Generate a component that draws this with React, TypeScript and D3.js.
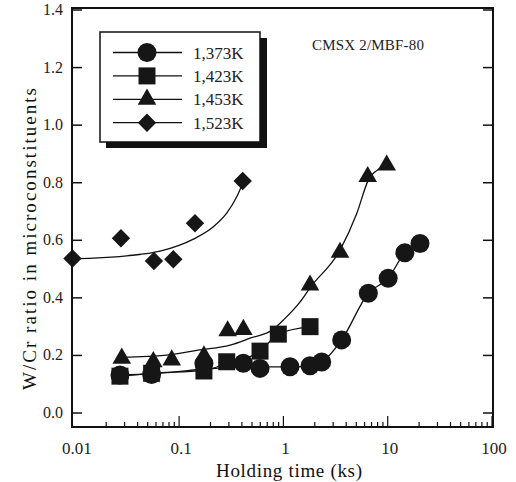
import React from "react";
import * as d3 from "d3";

// tick values / labels
const xMajor = [0.01, 0.1, 1, 10, 100];
const xLabels = ["0.01", "0.1", "1", "10", "100"];
const yTicks = [0, 0.2, 0.4, 0.6, 0.8, 1.0, 1.2, 1.4];
const yLabels = ["0.0", "0.2", "0.4", "0.6", "0.8", "1.0", "1.2", "1.4"];

// series (holding time in ks, W/Cr ratio)
const seriesNames = ["1,373K", "1,423K", "1,453K", "1,523K"];

const t1373 = [0.0271, 0.0545, 0.173, 0.413, 0.597, 1.157, 1.8, 2.33, 3.62, 6.52, 10.1, 14.6, 20.4];
const r1373 = [0.132, 0.134, 0.172, 0.173, 0.155, 0.161, 0.164, 0.177, 0.254, 0.416, 0.468, 0.557, 0.589];

const t1423 = [0.0271, 0.0545, 0.173, 0.286, 0.597, 0.894, 1.8];
const r1423 = [0.128, 0.138, 0.146, 0.178, 0.215, 0.274, 0.3];

const t1453 = [0.0282, 0.0566, 0.085, 0.173, 0.292, 0.413, 1.8, 3.49, 6.43, 9.78];
const r1453 = [0.19, 0.178, 0.184, 0.198, 0.285, 0.29, 0.444, 0.558, 0.821, 0.861];

const t1523 = [0.0095, 0.0277, 0.0574, 0.088, 0.142, 0.407];
const r1523 = [0.537, 0.607, 0.528, 0.534, 0.659, 0.806];

// fitted curves
const c1373t = [0.0271, 0.0545, 0.17, 0.4, 1.0, 1.8, 2.4, 3.62, 6.52, 10.1, 14.6, 20.4];
const c1373v = [0.132, 0.136, 0.152, 0.16, 0.16, 0.162, 0.18, 0.254, 0.416, 0.468, 0.557, 0.589];

const c1423t = [0.0271, 0.0545, 0.173, 0.286, 0.597, 0.894, 1.8];
const c1423v = [0.128, 0.138, 0.148, 0.172, 0.215, 0.274, 0.3];

const c1453t = [0.0282, 0.076, 0.158, 0.308, 0.479, 0.795, 1.0, 1.44, 1.8, 3.49, 5.05, 6.52, 8.44, 9.4];
const c1453v = [0.193, 0.201, 0.219, 0.236, 0.26, 0.29, 0.323, 0.385, 0.435, 0.566, 0.693, 0.809, 0.85, 0.86];

const c1523t = [0.0095, 0.015, 0.0315, 0.0656, 0.137, 0.213, 0.286, 0.357, 0.407];
const c1523v = [0.536, 0.538, 0.546, 0.562, 0.604, 0.647, 0.694, 0.751, 0.797];

const font = "'Liberation Serif', 'DejaVu Serif', serif";
const ink = "#111";

const App = () => {
  const left = 72, right = 493, top = 8, bottom = 427;
  const x = d3.scaleLog().domain([0.0094, 100]).range([left, 492]);
  const y = d3.scaleLinear().domain([-0.0486, 1.407]).range([bottom, top]);

  const line = d3.line<[number, number]>()
    .x((d) => x(d[0]))
    .y((d) => y(d[1]))
    .curve(d3.curveMonotoneX);

  const zip = (a: number[], b: number[]) => a.map((v, i) => [v, b[i]] as [number, number]);

  const circle = d3.symbol().type(d3.symbolCircle).size(Math.PI * 9.5 * 9.5)();
  const square = d3.symbol().type(d3.symbolSquare).size(17 * 17)();
  const triangle = d3.symbol().type(d3.symbolTriangle).size(150)();
  const diamond = d3.symbol().type(d3.symbolSquare).size(13 * 13)();

  const shapes = [
    { path: circle, rot: 0 },
    { path: square, rot: 0 },
    { path: triangle, rot: 0 },
    { path: diamond, rot: 45 },
  ];

  const series = [
    { pts: zip(t1373, r1373), curve: zip(c1373t, c1373v) },
    { pts: zip(t1423, r1423), curve: zip(c1423t, c1423v) },
    { pts: zip(t1453, r1453), curve: zip(c1453t, c1453v) },
    { pts: zip(t1523, r1523), curve: zip(c1523t, c1523v) },
  ];

  // minor + major ticks on bottom axis
  const xTicks = x.ticks().filter((t) => t > 0.015);
  const isMajor = (t: number) => Math.abs(Math.log10(t) - Math.round(Math.log10(t))) < 1e-6;

  return (
    <svg width={516} height={482} style={{ position: "absolute", left: 0, top: 0, background: "#fff" }}>
      {/* curves */}
      {series.map((s, i) => (
        <path key={"c" + i} d={line(s.curve) || ""} fill="none" stroke={ink} strokeWidth={1.3} />
      ))}

      {/* markers */}
      {series.map((s, i) =>
        s.pts.map((p, j) => (
          <path
            key={i + "-" + j}
            d={shapes[i].path || ""}
            transform={`translate(${x(p[0])},${y(p[1])}) rotate(${shapes[i].rot})`}
            fill="#161616"
          />
        ))
      )}

      {/* frame */}
      <rect x={left} y={top} width={right - left} height={bottom - top} fill="none" stroke={ink} strokeWidth={2} />

      {/* y ticks */}
      {yTicks.map((t, i) => (
        <g key={"y" + i}>
          <line x1={left} x2={left + 10} y1={y(t)} y2={y(t)} stroke={ink} strokeWidth={1.5} />
          <line x1={right - 10} x2={right} y1={y(t)} y2={y(t)} stroke={ink} strokeWidth={1.5} />
          <text x={63} y={y(t) + 5} textAnchor="end" fontFamily={font} fontSize={16} fill="#222">
            {yLabels[i]}
          </text>
        </g>
      ))}

      {/* x ticks */}
      {xTicks.map((t, i) => (
        <line key={"xt" + i} x1={x(t)} x2={x(t)} y1={bottom} y2={bottom - (isMajor(t) ? 11 : 5)} stroke={ink} strokeWidth={1.2} />
      ))}
      {xMajor.map((t, i) => (
        <text key={"xl" + i} x={x(t) + 2} y={454} textAnchor="middle" fontFamily={font} fontSize={17} fill="#222">
          {xLabels[i]}
        </text>
      ))}

      {/* axis titles */}
      <text x={289} y={477} textAnchor="middle" fontFamily={font} fontSize={19} fill={ink} textLength={146} lengthAdjust="spacing">
        Holding time (ks)
      </text>
      <text
        transform="translate(36,239) rotate(-90)"
        textAnchor="middle"
        fontFamily={font}
        fontSize={19}
        fill={ink}
        textLength={302}
        lengthAdjust="spacing"
      >
        W/Cr ratio in microconstituents
      </text>

      {/* annotation */}
      <text x={312} y={50} fontFamily={font} fontSize={15} fill="#222" textLength={112} lengthAdjust="spacing">
        CMSX 2/MBF-80
      </text>

      {/* legend */}
      <rect x={106} y={38} width={161} height={110} fill={ink} />
      <rect x={100} y={32} width={160} height={110} fill="#fff" stroke={ink} strokeWidth={1.5} />
      {seriesNames.map((name, i) => {
        const ly = 52.5 + i * 23.4;
        return (
          <g key={"lg" + i}>
            <line x1={113} x2={182} y1={ly} y2={ly} stroke={ink} strokeWidth={1.3} />
            <path d={shapes[i].path || ""} transform={`translate(147,${ly}) rotate(${shapes[i].rot})`} fill="#161616" />
            <text x={193} y={ly + 6} fontFamily={font} fontSize={17} fill="#222">
              {name}
            </text>
          </g>
        );
      })}
    </svg>
  );
};

export default App;
